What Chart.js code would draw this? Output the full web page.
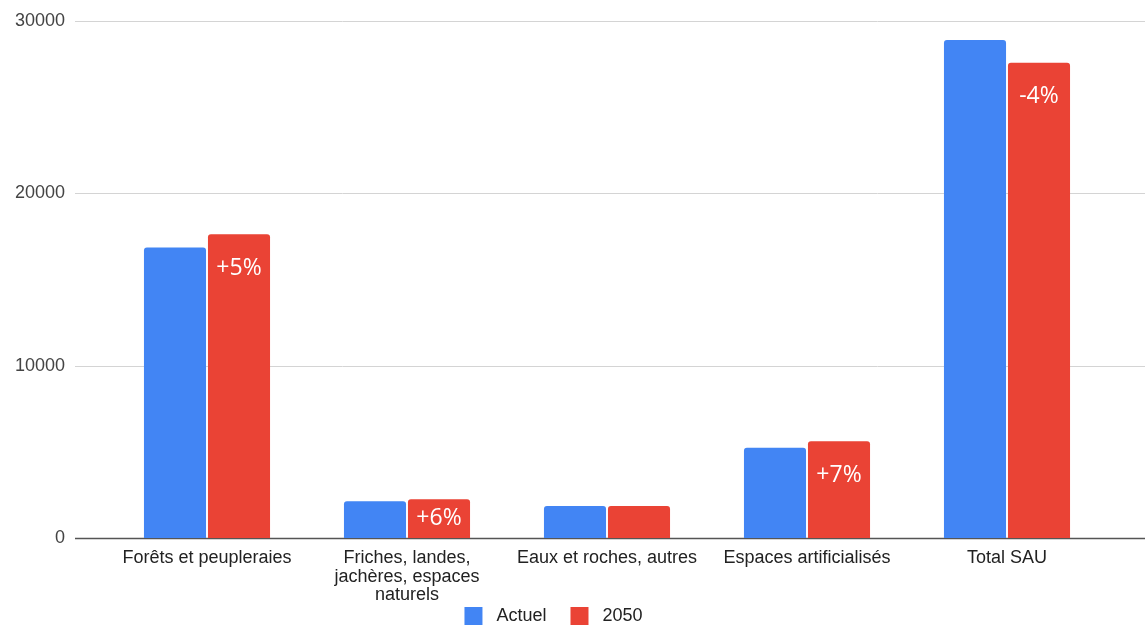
<!DOCTYPE html>
<html>
<head>
<meta charset="utf-8">
<script src="https://cdn.jsdelivr.net/npm/chart.js@4.4.1/dist/chart.umd.min.js"></script>
<style>
	html, body { margin: 0; padding: 0; background: #ffffff; overflow: hidden; }
	#wrap { width: 1145px; height: 627px; overflow: hidden; }
	#myChart { display: block; }
</style>
</head>
<body>
<div id="wrap"><canvas id="myChart" width="1145" height="635"></canvas></div>
<script>
// datos
var categorias = [
	"Forêts et peupleraies",
	["Friches, landes,", "jachères, espaces", "naturels"],
	"Eaux et roches, autres",
	"Espaces artificialisés",
	"Total SAU"
];
var actuel = [16860, 2130, 1850, 5240, 28900];
var valores2050 = [17630, 2250, 1850, 5610, 27580];
var etiquetas2050 = ["+5%", "+6%", "", "+7%", "-4%"];
var ticksY = [0, 10000, 20000, 30000];

var fuente = "'Liberation Sans', Arial";

// lineas horizontales de la rejilla, mas largas que el area del grafico
var rejilla = {
	id: "rejilla",
	beforeDatasetsDraw: function (chart) {
		var ctx = chart.ctx;
		var y = chart.scales.y;
		ctx.save();
		for (var i = 0; i < ticksY.length; i++) {
			var py = Math.round(y.getPixelForValue(ticksY[i])) + 0.5;
			ctx.beginPath();
			ctx.strokeStyle = ticksY[i] === 0 ? "#555555" : "#d4d4d4";
			ctx.lineWidth = ticksY[i] === 0 ? 1.5 : 1;
			ctx.moveTo(75, py);
			ctx.lineTo(chart.width, py);
			ctx.stroke();
		}
		ctx.restore();
	}
};

// porcentajes dentro de las barras rojas
var etiquetas = {
	id: "etiquetas",
	afterDatasetsDraw: function (chart) {
		var ctx = chart.ctx;
		var meta = chart.getDatasetMeta(1);
		ctx.save();
		ctx.fillStyle = "#ffffff";
		ctx.font = "23px 'Open Sans'";
		ctx.textAlign = "center";
		ctx.textBaseline = "middle";
		for (var i = 0; i < meta.data.length; i++) {
			var bar = meta.data[i];
			var cy = Math.min(bar.y + 34, (bar.y + bar.base) / 2);
			ctx.fillText(etiquetas2050[i], bar.x, cy);
		}
		ctx.restore();
	}
};

var datos = {
	labels: categorias,
	datasets: [
		{
			label: "Actuel",
			backgroundColor: "#4285f4",
			borderRadius: 3,
			data: actuel
		},
		{
			label: "2050",
			backgroundColor: "#ea4335",
			borderRadius: 3,
			data: valores2050
		}
	]
};

var config = {
	type: "bar",
	data: datos,
	plugins: [rejilla, etiquetas],
	options: {
		responsive: false,
		devicePixelRatio: 1,
		animation: false,
		categoryPercentage: 0.64,
		barPercentage: 0.97,
		layout: { padding: { top: 21, right: 38, left: 0, bottom: 0 } },
		plugins: {
			tooltip: { enabled: false },
			legend: {
				position: "bottom",
				labels: {
					boxWidth: 18,
					boxHeight: 18,
					padding: 6,
					color: "#222222",
					font: { family: fuente, size: 18 },
					// un poco mas de espacio entre cuadro, texto y elementos
					generateLabels: function (chart) {
						var items = Chart.defaults.plugins.legend.labels.generateLabels(chart);
						for (var i = 0; i < items.length; i++) {
							items[i].text = " " + items[i].text + (i < items.length - 1 ? "\u2003" : "");
						}
						return items;
					}
				}
			}
		},
		scales: {
			x: {
				grid: { display: false, drawTicks: false },
				border: { display: false },
				ticks: {
					color: "#222222",
					padding: 11,
					maxRotation: 0,
					autoSkip: false,
					font: { family: fuente, size: 18, lineHeight: 1.03 }
				},
				afterFit: function (scale) { scale.height = 63; }
			},
			y: {
				min: 0,
				max: 30000,
				grid: { display: false, drawTicks: false },
				border: { display: false },
				afterBuildTicks: function (scale) {
					scale.ticks = ticksY.map(function (v) { return { value: v }; });
				},
				ticks: {
					color: "#444444",
					padding: 42,
					font: { family: fuente, size: 18 },
					callback: function (value) { return String(value); }
				},
				afterFit: function (scale) {
					// el padding de las etiquetas no debe empujar el area hacia abajo
					scale.width = 107;
					scale.paddingTop = 10;
					scale.paddingBottom = 10;
				}
			}
		}
	}
};

var myChart = new Chart(document.getElementById("myChart"), config);
</script>
</body>
</html>
